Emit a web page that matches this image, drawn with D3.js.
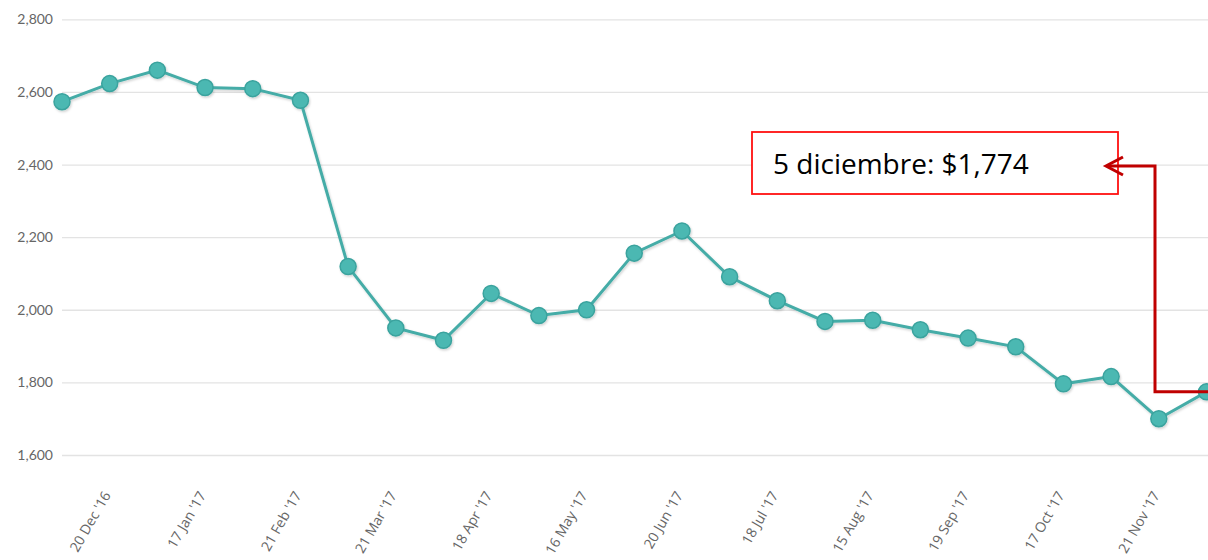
<!DOCTYPE html>
<html>
<head>
  <title>Precio</title>
  <script src="https://d3js.org/d3.v7.min.js"></script>
  <style>
    body { margin: 0; background: #fff; }
    svg { display: block; }
  </style>
</head>
<body>
  <div id="chart"></div>

  <script>
    // data
    var dates = ["6 Dec '16", "20 Dec '16", "3 Jan '17", "17 Jan '17", "7 Feb '17", "21 Feb '17",
      "7 Mar '17", "21 Mar '17", "4 Apr '17", "18 Apr '17", "2 May '17", "16 May '17",
      "6 Jun '17", "20 Jun '17", "4 Jul '17", "18 Jul '17", "1 Aug '17", "15 Aug '17",
      "5 Sep '17", "19 Sep '17", "3 Oct '17", "17 Oct '17", "7 Nov '17", "21 Nov '17", "5 Dec '17"];
    var prices = [2573, 2623, 2660, 2612, 2609, 2577, 2119, 1950, 1916, 2045, 1984, 2000,
      2156, 2217, 2091, 2025, 1968, 1971, 1945, 1922, 1898, 1796, 1816, 1700, 1774];
    var tickDates = ["20 Dec '16", "17 Jan '17", "21 Feb '17", "21 Mar '17", "18 Apr '17", "16 May '17",
      "20 Jun '17", "18 Jul '17", "15 Aug '17", "19 Sep '17", "17 Oct '17", "21 Nov '17"];
    var yTicks = [1600, 1800, 2000, 2200, 2400, 2600, 2800];
    var noteText = '5 diciembre: $1,774';

    var W = 1208, H = 560;
    // careful: "top" is taken by window.top
    var plotLeft = 62, plotRight = 1206.5, plotTop = 19.3, plotBottom = 455;

    var svg = d3.select('#chart').append('svg')
      .attr('width', W)
      .attr('height', H);

    var x = d3.scalePoint()
      .domain(dates)
      .range([plotLeft, plotRight]);

    var y = d3.scaleLinear()
      .domain([1600, 2800])
      .range([plotBottom, plotTop]);

    // y axis + gridlines
    var yAxis = svg.append('g')
      .attr('transform', 'translate(' + plotLeft + ',0)')
      .call(d3.axisLeft(y).tickValues(yTicks).tickSize(-(W - plotLeft)).tickPadding(9)
        .tickFormat(d3.format(',')));
    yAxis.select('.domain').remove();
    yAxis.selectAll('line')
      .attr('stroke', '#e3e3e3')
      .attr('stroke-width', 1.3);
    yAxis.selectAll('text')
      .attr('fill', '#666')
      .attr('font-family', 'Lato, sans-serif')
      .attr('font-size', '14px');

    // x axis labels
    var xAxis = svg.append('g')
      .attr('transform', 'translate(0,' + plotBottom + ')')
      .call(d3.axisBottom(x).tickValues(tickDates).tickSize(0));
    xAxis.select('.domain').remove();
    xAxis.selectAll('text')
      .attr('y', 0)
      .attr('dy', 0)
      .attr('transform', 'translate(1,40) rotate(-60)')
      .attr('text-anchor', 'end')
      .attr('fill', '#666')
      .attr('font-family', '"Open Sans", sans-serif')
      .attr('font-size', '14px');

    // shadow for the series
    var defs = svg.append('defs');
    var f = defs.append('filter').attr('id', 'shadow')
      .attr('x', '-10%').attr('y', '-10%').attr('width', '120%').attr('height', '120%');
    f.append('feDropShadow')
      .attr('dx', 1).attr('dy', 1.5).attr('stdDeviation', 1.2)
      .attr('flood-color', '#000').attr('flood-opacity', 0.18);

    var line = d3.line()
      .x(function(d, i) { return x(dates[i]); })
      .y(function(d) { return y(d); });

    var series = svg.append('g').attr('filter', 'url(#shadow)');

    series.append('path')
      .datum(prices)
      .attr('d', line)
      .attr('fill', 'none')
      .attr('stroke', '#45aca7')
      .attr('stroke-width', 3);

    series.selectAll('.dot')
      .data(prices)
      .enter()
      .append('circle')
      .attr('class', 'dot')
      .attr('cx', function(d, i) { return x(dates[i]); })
      .attr('cy', function(d) { return y(d); })
      .attr('r', 8)
      .attr('fill', '#4cb8b2')
      .attr('stroke', '#3aa39e')
      .attr('stroke-width', 1.5);

    // annotation
    var last = prices.length - 1;
    var bx = 752, by = 132, bw = 366, bh = 62;
    var elbowX = 1155, arrowY = 166, tipX = 1106;

    svg.append('rect')
      .attr('x', bx)
      .attr('y', by)
      .attr('width', bw)
      .attr('height', bh)
      .attr('fill', '#fff')
      .attr('stroke', '#ff1010')
      .attr('stroke-width', 1.8);

    svg.append('text')
      .attr('x', bx + 21)
      .attr('y', by + 41.5)
      .attr('font-family', '"Open Sans", sans-serif')
      .attr('font-size', '28px')
      .attr('fill', '#000')
      .text(noteText);

    svg.append('path')
      .attr('d', 'M' + (x(dates[last]) + 4) + ',' + y(prices[last]) +
        'H' + elbowX + 'V' + arrowY + 'H' + (tipX + 2))
      .attr('fill', 'none')
      .attr('stroke', '#c00000')
      .attr('stroke-width', 3);

    svg.append('path')
      .attr('d', 'M' + (tipX + 17) + ',' + (arrowY - 9) + 'L' + tipX + ',' + arrowY +
        'L' + (tipX + 17) + ',' + (arrowY + 9))
      .attr('fill', 'none')
      .attr('stroke', '#c00000')
      .attr('stroke-width', 3);
  </script>
</body>
</html>
